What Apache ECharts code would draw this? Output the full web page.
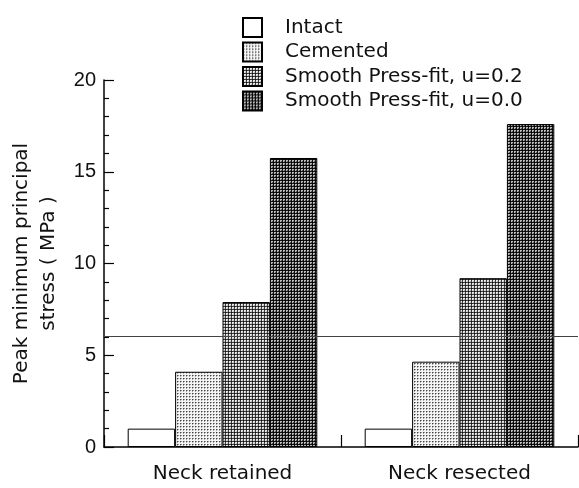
<!DOCTYPE html>
<html>
<head>
<meta charset="utf-8">
<script src="https://cdn.jsdelivr.net/npm/echarts@6/dist/echarts.min.js"></script>
<style>
  html, body { margin: 0; padding: 0; background: #fff; }
  #chart { width: 579px; height: 488px; }
</style>
</head>
<body>
<div id="chart"></div>
<script>
const categories = ['Neck retained', 'Neck resected']
const seriesNames = ['Intact', 'Cemented', 'Smooth Press-fit, u=0.2', 'Smooth Press-fit, u=0.0']
const intact = [1.0, 1.0]
const cemented = [4.1, 4.65]
const pressFit02 = [7.9, 9.2]
const pressFit00 = [15.75, 17.6]
const thresholdLine = 6.05

// small halftone-like tiles for the bar fills
function makeTile(bg, cells) {
  const c = document.createElement('canvas')
  c.width = 3
  c.height = 3
  const ctx = c.getContext('2d')
  ctx.fillStyle = bg
  ctx.fillRect(0, 0, 3, 3)
  cells.forEach(([x, y, col]) => {
    ctx.fillStyle = col
    ctx.fillRect(x, y, 1, 1)
  })
  return { image: c, repeat: 'repeat' }
}

const fills = [
  '#ffffff',
  makeTile('#f4f4f4', [[0, 0, '#444'], [1, 0, '#999'], [0, 1, '#aaa']]),
  makeTile('#e8e8e8', [[0, 0, '#111'], [1, 0, '#333'], [2, 0, '#444'], [0, 1, '#333'], [0, 2, '#444'], [2, 2, '#bbb']]),
  makeTile('#bbbbbb', [[0, 0, '#000'], [1, 0, '#111'], [2, 0, '#111'], [0, 1, '#111'], [0, 2, '#111'], [2, 2, '#555']])
]

const values = [intact, cemented, pressFit02, pressFit00]
const textFont = 'DejaVu Sans, sans-serif'
const numFont = 'Liberation Sans, Arial, sans-serif'

const chart = echarts.init(document.getElementById('chart'))
chart.setOption({
  animation: false,
  grid: { left: 97, right: 1, top: 80, bottom: 41, containLabel: false },
  legend: {
    orient: 'vertical',
    left: 237,
    top: 12,
    itemWidth: 19,
    itemHeight: 19,
    itemGap: 3.5,
    icon: 'rect',
    selectedMode: false,
    textStyle: { fontFamily: textFont, fontSize: 20, color: '#111', lineHeight: 19, padding: [0, 0, 0, 18] },
    data: seriesNames
  },
  xAxis: [
    {
      type: 'category',
      data: categories,
      axisLine: { lineStyle: { color: '#000', width: 1.5 } },
      axisTick: { show: false },
      axisLabel: { fontFamily: textFont, fontSize: 20, color: '#111', margin: 17 }
    },
    {
      // hidden ruler that carries the small bottom tick marks
      type: 'value',
      min: 0,
      max: 10,
      interval: 5,
      position: 'bottom',
      axisLine: { show: false },
      axisLabel: { show: false },
      splitLine: { show: false },
      axisTick: { inside: true, length: 12, lineStyle: { color: '#000', width: 1.2 } },
      minorTick: { show: true, splitNumber: 5, length: 6, lineStyle: { color: '#000', width: 1.2 } }
    }
  ],
  yAxis: {
    type: 'value',
    min: 0,
    max: 20,
    interval: 5,
    name: 'Peak minimum principal\nstress ( MPa )',
    nameLocation: 'middle',
    nameGap: 42,
    nameTextStyle: { fontFamily: textFont, fontSize: 20, color: '#111', lineHeight: 27 },
    axisLine: { show: true, lineStyle: { color: '#000', width: 1.5 } },
    axisTick: { inside: true, length: 10, lineStyle: { color: '#000', width: 1.2 } },
    minorTick: { show: true, splitNumber: 5, length: 5, lineStyle: { color: '#000', width: 1.2 } },
    axisLabel: { fontFamily: numFont, fontSize: 20, color: '#111', margin: 8 },
    splitLine: { show: false }
  },
  series: seriesNames.map((name, i) => ({
    name,
    type: 'bar',
    xAxisIndex: 0,
    data: values[i],
    barGap: '0%',
    barCategoryGap: '20%',
    itemStyle: { color: fills[i], borderColor: '#000', borderWidth: 1 },
    markLine: i === 0 ? {
      silent: true,
      symbol: 'none',
      label: { show: false },
      lineStyle: { color: '#444', width: 1, type: 'solid' },
      data: [{ yAxis: thresholdLine }]
    } : undefined
  }))
})
</script>
</body>
</html>
